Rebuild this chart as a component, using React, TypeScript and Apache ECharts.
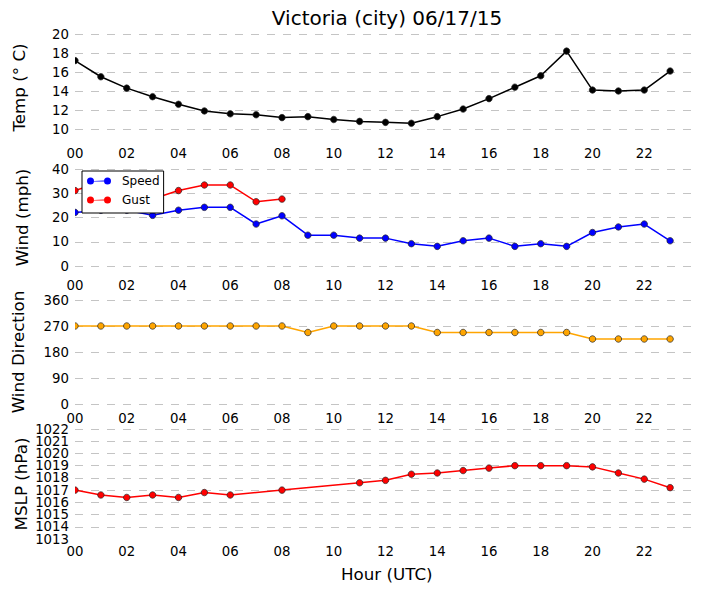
import React, { useEffect, useRef } from "react";
import * as echarts from "echarts";

const hours = [0,1,2,3,4,5,6,7,8,9,10,11,12,13,14,15,16,17,18,19,20,21,22,23];
const tempC = [17.2,15.5,14.3,13.4,12.6,11.9,11.6,11.5,11.2,11.3,11.0,10.8,10.7,10.6,11.3,12.1,13.2,14.4,15.6,18.2,14.1,14.0,14.1,16.1];
const windSpeed = [22.1,23,23,20.9,23,24.2,24.2,17.3,20.7,12.7,12.7,11.5,11.5,9.2,8.1,10.4,11.5,8.1,9.2,8.1,13.8,16.1,17.3,10.4];
const windGust: (number|null)[] = [31.1,34.5,31,27.6,31.1,33.4,33.4,26.5,27.6,null,null,null,null,null,null,null,null,null,null,null,null,null,null,null];
const windDir = [270,270,270,270,270,270,270,270,270,247.5,270,270,270,270,247.5,247.5,247.5,247.5,247.5,247.5,225,225,225,225];
const mslp: (number|null)[] = [1017,1016.6,1016.4,1016.6,1016.4,1016.8,1016.6,null,1017,null,null,1017.6,1017.8,1018.3,1018.4,1018.6,1018.8,1019,1019,1019,1018.9,1018.4,1017.9,1017.2];
const mslpEndTicks = [1013, 1022];

const FONT = "DejaVu Sans";
const pairs = (vals: (number|null)[]) => hours.map((h, i) => [h, vals[i]]);
const legendIcon = "path://M0 3.5A3.5 3.5 0 1 1 7 3.5L17 3L17 3.5A3.5 3.5 0 1 1 24 3.5A3.5 3.5 0 1 1 17 3.5L17 4L7 4L7 3.5A3.5 3.5 0 1 1 0 3.5Z";

const grids = [
  { left: 75, width: 621, top: 34, height: 95, outerBoundsMode: "none" },
  { left: 75, width: 621, top: 169, height: 97, outerBoundsMode: "none" },
  { left: 75, width: 621, top: 300, height: 104, outerBoundsMode: "none" },
  { left: 75, width: 621, top: 429, height: 110, outerBoundsMode: "none" },
];
const labelMargins = [18, 13, 8, 6];
const yCfg = [
  { name: "Temp (° C)", min: 10, max: 20, interval: 2, nameGap: 48, padding: [0, 12, 0, 0] },
  { name: "Wind (mph)", min: 0, max: 40, interval: 10, nameGap: 45, padding: 0 },
  { name: "Wind Direction", min: 0, max: 360, interval: 90, nameGap: 49, padding: 0 },
  { name: "MSLP (hPa)", min: 1013, max: 1022, interval: 1, nameGap: 46, padding: 0 },
];

const line = (name: string, idx: number, vals: (number|null)[], color: string, z = 3) => ({
  name, type: "line", xAxisIndex: idx, yAxisIndex: idx, data: pairs(vals),
  connectNulls: true, showSymbol: true, symbol: "circle", symbolSize: 6.5, z,
  lineStyle: { color, width: 1.5 },
  itemStyle: { color, borderColor: "#222", borderWidth: 0.7 },
});

export default function App() {
  const ref = useRef<HTMLDivElement>(null);
  useEffect(() => {
    const chart = echarts.init(ref.current!, undefined, { renderer: "svg" });
    chart.setOption({
      animation: false,
      backgroundColor: "#fff",
      textStyle: { fontFamily: FONT },
      title: { text: "Victoria (city) 06/17/15", left: 382, top: 3, textAlign: "center",
        textStyle: { fontFamily: FONT, fontSize: 20, fontWeight: "normal", color: "#000" } },
      grid: grids,
      legend: {
        left: 82, top: 171, orient: "vertical",
        data: [
          { name: "Speed", itemStyle: { color: "#0000ff", borderWidth: 0 } },
          { name: "Gust", itemStyle: { color: "#ff0000", borderWidth: 0 } },
        ],
        icon: legendIcon, itemWidth: 24, itemHeight: 7, itemGap: 7,
        padding: [4, 4, 7, 5], backgroundColor: "#fff", borderColor: "#000", borderWidth: 1,
        textStyle: { fontFamily: FONT, fontSize: 12, color: "#000", padding: [0, 0, 0, 6] },
        selectedMode: false,
      },
      xAxis: grids.map((_, i) => ({
        type: "value", gridIndex: i, min: 0, max: 24, interval: 2,
        axisLine: { show: false }, axisTick: { show: false }, splitLine: { show: false },
        axisLabel: { margin: labelMargins[i], fontSize: 13.3, color: "#000", fontFamily: FONT, showMaxLabel: false, showMinLabel: true, hideOverlap: false,
          formatter: (v: number) => String(v).padStart(2, "0") },
      })),
      yAxis: [
        ...yCfg.map((c, i) => ({
          type: "value", gridIndex: i, min: c.min, max: c.max, interval: c.interval,
          name: c.name, nameLocation: "middle", nameGap: c.nameGap, nameRotate: 90, nameMoveOverlap: false,
          nameTextStyle: { fontSize: 16.7, color: "#000", fontFamily: FONT, padding: c.padding },
          axisLine: { show: false }, axisTick: { show: false },
          splitLine: { show: true, showMinLine: i !== 3,
            lineStyle: { color: "#c4c4c4", width: 1, type: [8, 8] } },
          axisLabel: { margin: 6, fontSize: 13.3, color: "#000", fontFamily: FONT,
            showMinLabel: i !== 3, showMaxLabel: i !== 3, hideOverlap: false,
            formatter: (v: number) => String(v) },
        })),
        {
          type: "value", gridIndex: 3, position: "left", min: 1013, max: 1022,
          axisLine: { show: false }, axisTick: { show: false }, splitLine: { show: false },
          axisLabel: { margin: 6, fontSize: 13.3, color: "#000", fontFamily: FONT, hideOverlap: false,
            customValues: mslpEndTicks, formatter: (v: number) => String(v) },
        },
      ],
      series: [
        line("Temp", 0, tempC, "#000"),
        line("Speed", 1, windSpeed, "#0000ff"),
        line("Gust", 1, windGust, "#ff0000"),
        line("Wind Direction", 2, windDir, "#ffa500"),
        line("MSLP", 3, mslp, "#ff0000"),
      ],
      graphic: [
        { type: "text", left: 341, top: 565, style: { text: "Hour (UTC)", fontFamily: FONT, fontSize: 16.7, fill: "#000" } },
        ...grids.map((g) => ({ type: "rect", z: 10, shape: { x: 70, y: g.top - 4, width: 5, height: g.height + 8 }, style: { fill: "#fff" } })),
      ],
    });
    return () => chart.dispose();
  }, []);
  return <div ref={ref} style={{ position: "absolute", left: 0, top: 0, width: 705, height: 594 }} />;
}
